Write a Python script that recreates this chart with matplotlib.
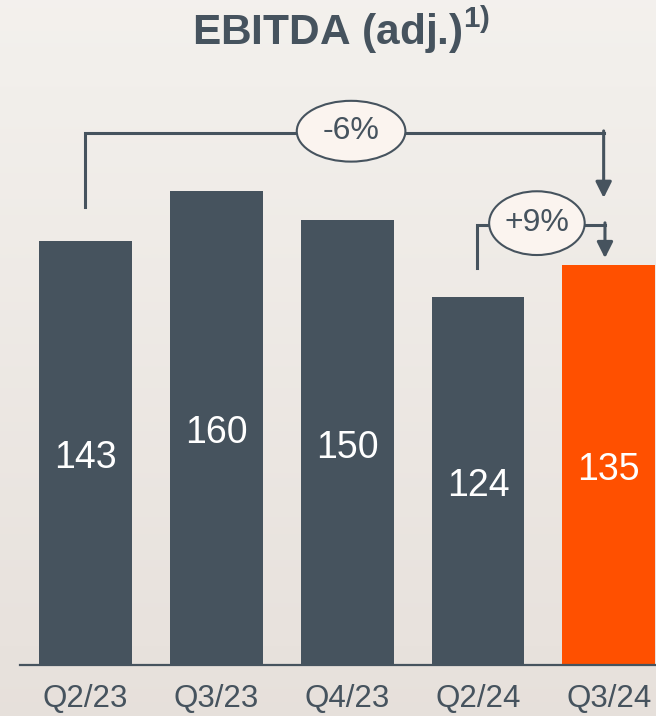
import numpy as np
import matplotlib
matplotlib.use("Agg")
import matplotlib.pyplot as plt
from matplotlib.patches import Ellipse

plt.rcParams['font.family'] = ['Liberation Sans', 'DejaVu Sans']
plt.rcParams['mathtext.fontset'] = 'custom'
plt.rcParams['mathtext.rm'] = 'Liberation Sans'
plt.rcParams['mathtext.bf'] = 'Liberation Sans:bold'

# data
quarters = ['Q2/23', 'Q3/23', 'Q4/23', 'Q2/24', 'Q3/24']
ebitda = [143, 160, 150, 124, 135]
bar_colors = ['#46535e', '#46535e', '#46535e', '#46535e', '#ff5000']
changes = ['-6%', '+9%']

dark = '#46535e'

fig = plt.figure(figsize=(6.56, 7.16), dpi=100)

# soft background gradient
bg = fig.add_axes([0, 0, 1, 1], zorder=-10)
grad = np.linspace(0, 1, 256).reshape(-1, 1)
top = np.array([0.955, 0.945, 0.93])
bot = np.array([0.905, 0.88, 0.86])
img = top[None, None, :] * (1 - grad[..., None]) + bot[None, None, :] * grad[..., None]
bg.imshow(img, aspect='auto', extent=[0, 1, 0, 1])
bg.axis('off')

ax = fig.add_axes([20 / 656, 51 / 716, 636 / 656, 575 / 716])
ax.patch.set_alpha(0)
x = np.arange(len(quarters))
bars = ax.bar(x, ebitda, width=0.71, color=bar_colors, zorder=2)
ax.set_xlim(-0.5, 4.36)
ax.set_ylim(0, 193.9)

for xi, v in zip(x, ebitda):
    ax.text(xi, v / 2 - 1.8, str(v), ha='center', va='center', color='white', fontsize=27)

for s in ['top', 'right', 'left']:
    ax.spines[s].set_visible(False)
ax.spines['bottom'].set_color(dark)
ax.spines['bottom'].set_linewidth(1.6)
ax.set_yticks([])
ax.set_xticks(x)
ax.set_xticklabels(quarters, fontsize=22.5, color=dark)
ax.tick_params(axis='x', length=0, pad=14)


def bracket(x0, x1, y_start, y_top, y_tip, label, ew, eh, ex):
    ax.plot([x0, x0, x1], [y_start, y_top, y_top], color=dark, lw=2.2,
            solid_joinstyle='miter', zorder=3)
    ax.annotate('', xy=(x1, y_tip), xytext=(x1, y_top + 0.6),
                arrowprops=dict(arrowstyle='-|>', color=dark, lw=2.2,
                                mutation_scale=24, shrinkA=0, shrinkB=0),
                zorder=3)
    ax.add_patch(Ellipse((ex, y_top + 0.5), ew, eh, facecolor='#fbf4ef',
                         edgecolor=dark, lw=1.5, zorder=4))
    ax.text(ex, y_top + 0.5, label, ha='center', va='center', fontsize=23,
            color=dark, zorder=5)


# Q2/23 -> Q3/24
bracket(x[0], x[4] - 0.04, ebitda[0] + 11.5, ebitda[1] + 19.5, ebitda[4] + 22.5,
        changes[0], 0.83, 20.5, 2.03)
# Q2/24 -> Q3/24
bracket(x[3] - 0.01, x[4] - 0.03, ebitda[3] + 10, ebitda[3] + 24.5, ebitda[4] + 2.2,
        changes[1], 0.73, 21.5, 3.45)

fig.text(0.52, 1 - 30 / 716, r'EBITDA (adj.)$^{\mathbf{1)}}$', ha='center',
         va='center', fontsize=30.5, fontweight='bold', color=dark)

fig.savefig('out.png', dpi=100)
